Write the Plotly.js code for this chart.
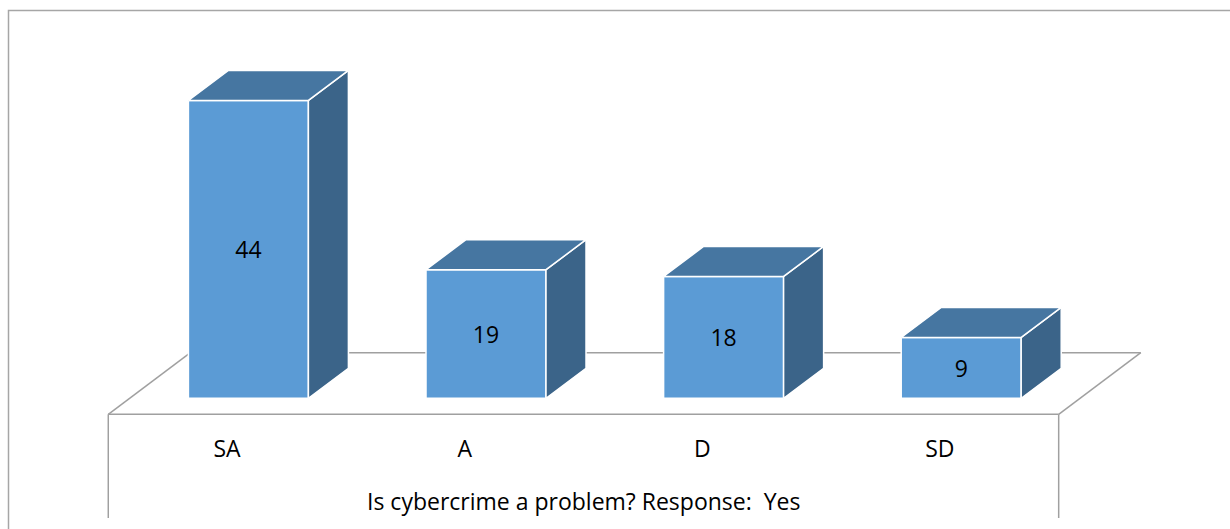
<!DOCTYPE html>
<html>
<head>
<meta charset="utf-8">
<script src="https://cdn.plot.ly/plotly-3.0.1.min.js"></script>
<style>
  html, body { margin: 0; padding: 0; background: #ffffff; }
  #chart { width: 1230px; height: 529px; }
</style>
</head>
<body>
<div id="chart"></div>
<script>
// ---------- data ----------
const categories = ['SA', 'A', 'D', 'SD'];
const values = [44, 19, 18, 9];
const xTitle = 'Is cybercrime a problem? Response:\u00a0 Yes';

// ---------- styling / 3D projection constants ----------
const FONT = 'Open Sans, Noto Sans, sans-serif';
const FS = 23;
const FRONT = '#5B9BD5';
const TOP = '#4676A1';
const SIDE = '#3B6489';
const EDGE = '#FFFFFF';
const FLOOR = '#A0A0A0';
const BAR_W = 0.505;      // bar width in category units
const DX = 0.1684;        // depth offset (x units) per unit of depth
const DY = 4.43;          // depth offset (y units) per unit of depth
const T_FRONT = -0.533;   // floor front (depth units)
const T_BACK = 1.52;      // floor back (depth units)
const X_RANGE = [-0.6246, 3.7946];
const Y_RANGE = [-17.68, 55.88];
const M = {l: 100, r: 80, t: 20, b: 11};
const PLOT_W = 1230 - M.l - M.r, PLOT_H = 529 - M.t - M.b;

const idx = categories.map((c, i) => i);
const proj = (x, y, t) => [x + t * DX, y + t * DY];

const traces = [];

// front faces (real bars)
traces.push({
  type: 'bar',
  x: idx,
  y: values,
  width: BAR_W,
  base: 0,
  marker: {color: FRONT, line: {color: EDGE, width: 1.5}},
  text: values.map(String),
  textposition: 'inside',
  insidetextanchor: 'middle',
  textangle: 0,
  textfont: {family: FONT, size: FS, color: '#000000'},
  constraintext: 'none',
  hoverinfo: 'skip',
  showlegend: false
});

// side & top faces, computed from the values
values.forEach((v, i) => {
  const xl = i - BAR_W / 2, xr = i + BAR_W / 2;
  const side = [[xr, 0], proj(xr, 0, 1), proj(xr, v, 1), [xr, v], [xr, 0]];
  const top = [[xl, v], [xr, v], proj(xr, v, 1), proj(xl, v, 1), [xl, v]];
  [[side, SIDE], [top, TOP]].forEach(([pts, col]) => {
    traces.push({
      type: 'scatter', mode: 'lines', fill: 'toself',
      x: pts.map(p => p[0]), y: pts.map(p => p[1]),
      fillcolor: col, line: {color: EDGE, width: 1.5},
      hoverinfo: 'skip', showlegend: false
    });
  });
});

// floor & front wall outline (drawn below the bars)
const xa = -0.5, xb = categories.length - 0.5;
const fl = proj(xa, 0, T_FRONT), fr = proj(xb, 0, T_FRONT);
const bl = proj(xa, 0, T_BACK), br = proj(xb, 0, T_BACK);
const floorLines = [
  [fl, bl], [bl, br], [br, fr], [fr, fl],
  [fl, [fl[0], Y_RANGE[0]]], [fr, [fr[0], Y_RANGE[0]]]
];
const shapes = floorLines.map(([a, b]) => ({
  type: 'line', xref: 'x', yref: 'y', layer: 'below',
  x0: a[0], y0: a[1], x1: b[0], y1: b[1],
  line: {color: FLOOR, width: 1.5}
}));

// outer chart border (pixel -> paper)
const px2x = px => (px - M.l) / PLOT_W;
const py2y = py => (529 - M.b - py) / PLOT_H;
shapes.push({
  type: 'rect', xref: 'paper', yref: 'paper', layer: 'below',
  x0: px2x(8.5), x1: px2x(1240), y0: py2y(10.5), y1: py2y(545),
  line: {color: '#A6A6A6', width: 1.5}, fillcolor: 'rgba(0,0,0,0)'
});

const layout = {
  width: 1230, height: 529,
  margin: M,
  paper_bgcolor: '#FFFFFF', plot_bgcolor: 'rgba(0,0,0,0)',
  showlegend: false,
  barmode: 'overlay',
  font: {family: FONT, size: FS, color: '#000000'},
  xaxis: {
    range: X_RANGE, anchor: 'free',
    position: (fl[1] - Y_RANGE[0]) / (Y_RANGE[1] - Y_RANGE[0]),
    tickmode: 'array',
    tickvals: idx.map(i => i + T_FRONT * DX),
    ticktext: categories,
    ticks: '', showline: false, showgrid: false, zeroline: false,
    ticklabelstandoff: 19,
    tickfont: {family: FONT, size: FS, color: '#000000'},
    fixedrange: true
  },
  yaxis: {
    range: Y_RANGE, visible: false, showgrid: false, zeroline: false,
    fixedrange: true
  },
  shapes: shapes,
  annotations: [{
    text: xTitle, xref: 'x', yref: 'y',
    x: (xa + xb) / 2 + T_FRONT * DX, y: -15.17,
    showarrow: false, xanchor: 'center', yanchor: 'middle',
    font: {family: FONT, size: FS, color: '#000000'}
  }]
};

Plotly.newPlot('chart', traces, layout, {staticPlot: true, displayModeBar: false});
</script>
</body>
</html>
